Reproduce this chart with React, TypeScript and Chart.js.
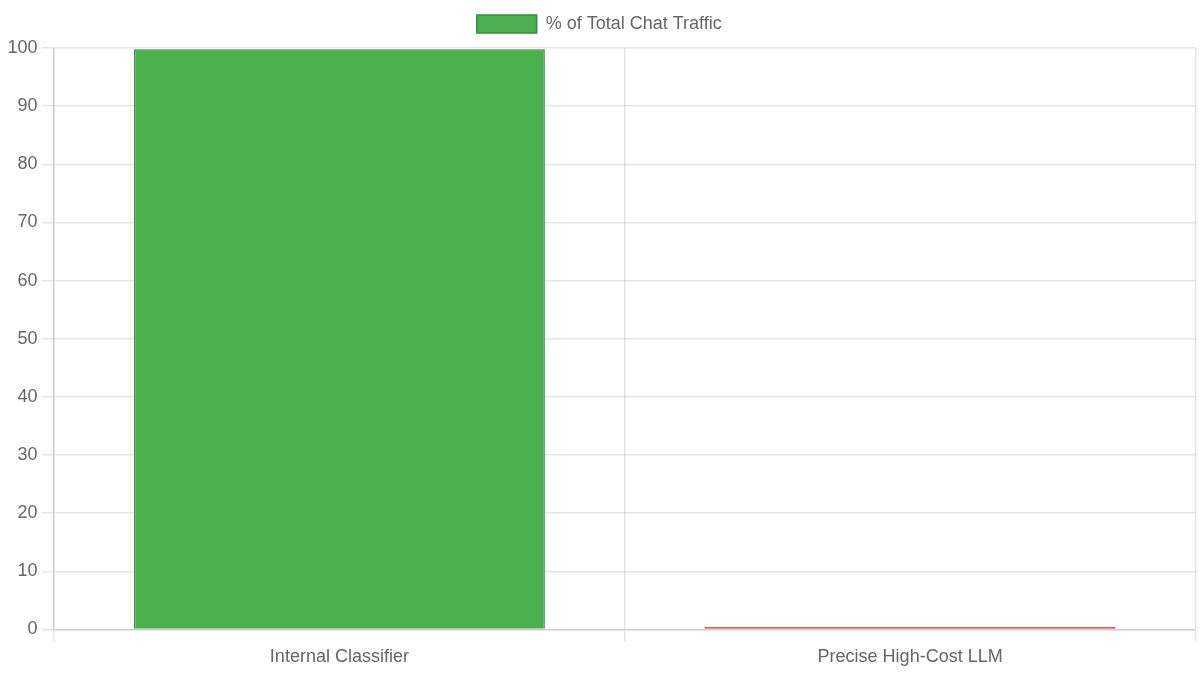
import { useEffect, useRef } from "react"
import Chart from "chart.js/auto"

const categories = ["Internal Classifier", "Precise High-Cost LLM"]
const trafficShare = [99.8, 0.4]
const barColors = ["#4CAF50", "#F44336"]
const barBorders = ["#388E3C", "#D32F2F"]

export default function App() {
  const chartRef = useRef<HTMLCanvasElement>(null)
  const chartInstance = useRef<Chart | null>(null)

  useEffect(() => {
    document.body.style.margin = "0"
    if (!chartRef.current) return
    const ctx = chartRef.current.getContext("2d")
    if (!ctx) return

    if (chartInstance.current) chartInstance.current.destroy()

    Chart.defaults.font.family = "'Liberation Sans', Arial, sans-serif"
    Chart.defaults.color = "#666"

    // drawn at 800x450 and scaled up 1.5x, like the reference
    chartInstance.current = new Chart(ctx, {
      type: "bar",
      data: {
        labels: categories,
        datasets: [
          {
            label: "% of Total Chat Traffic",
            data: trafficShare,
            backgroundColor: barColors,
            borderColor: barBorders,
            borderWidth: 1,
          },
        ],
      },
      options: {
        responsive: true,
        maintainAspectRatio: false,
        animation: false,
        devicePixelRatio: 1.5,
        layout: { padding: { left: 2, right: 3, bottom: 2 } },
        scales: {
          y: {
            beginAtZero: true,
            max: 100,
            ticks: { stepSize: 10 },
          },
        },
      },
    })

    return () => {
      if (chartInstance.current) {
        chartInstance.current.destroy()
        chartInstance.current = null
      }
    }
  }, [])

  return (
    <div style={{ width: "1200px", height: "675px", overflow: "hidden" }}>
      <div
        style={{
          width: "800px",
          height: "450px",
          transform: "scale(1.5)",
          transformOrigin: "0 0",
          position: "relative",
        }}
      >
        <canvas ref={chartRef} aria-label="Chat traffic share chart" role="img"></canvas>
      </div>
    </div>
  )
}
